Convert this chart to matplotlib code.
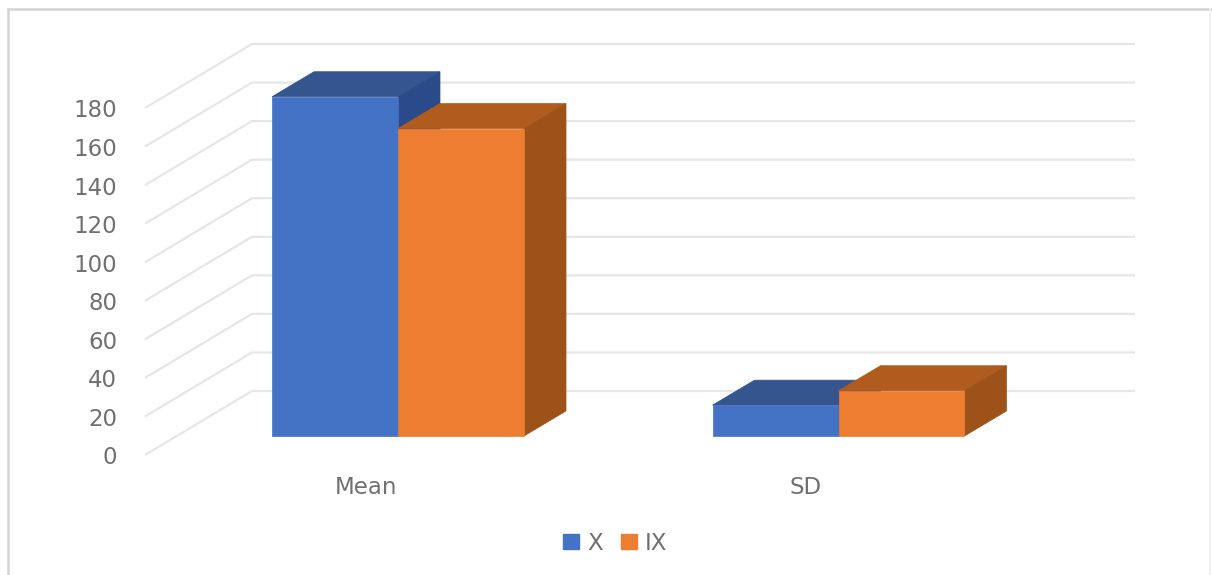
import matplotlib
matplotlib.use('Agg')
import matplotlib.pyplot as plt
from matplotlib.lines import Line2D
from matplotlib.patches import Polygon, Patch

plt.rcParams['font.family'] = ['DejaVu Sans']

categories = ['Mean', 'SD']
series_names = ['X', 'IX']
x_values = [176, 16]
ix_values = [159.5, 23.5]
yticks = [0, 20, 40, 60, 80, 100, 120, 140, 160, 180]

W, H = 1212, 575
xunit = 440.5      # px per category
yunit = 347 / 180. # px per value
x0px, y0px = 398, 436  # category 0, value 0 on the front of the bars

barw = 126 / xunit
# oblique offset of the bar depth and of the whole wall
bar_dx, bar_dy = 42 / xunit, 25 / yunit
front_dy = -19 / yunit
wall_dx, wall_dy = 107 / xunit, 64 / yunit
wall_left = (145 - x0px) / xunit
wall_right = (1135 - x0px) / xunit

textcol = '#707070'
fs = 16.5

fig = plt.figure(figsize=(W / 100., H / 100.), dpi=100)
ax = fig.add_axes([0, 0, 1, 1])
ax.set_xlim(-x0px / xunit, (W - x0px) / xunit)
ax.set_ylim(-(H - y0px) / yunit, y0px / yunit)
ax.axis('off')

# outer chart frame, only top and left show clearly
top = 1 - 9 / H
fig.add_artist(Line2D([8 / W, 8 / W], [0, top], color='#d4d4d4', lw=1.8))
fig.add_artist(Line2D([8 / W, 1], [top, top], color='#d4d4d4', lw=1.8))
fig.add_artist(Line2D([1210 / W, 1210 / W], [0, top], color='#f0f0f0', lw=1.2))

gridcol = '#e6e6e6'
for v in yticks:
    xs = [wall_left, wall_left + wall_dx, wall_right]
    y0 = v + front_dy
    ys = [y0, y0 + wall_dy, y0 + wall_dy]
    ax.plot(xs, ys, color=gridcol, lw=1.6, zorder=1, solid_capstyle='butt')
    ax.text(wall_left - 28 / xunit, y0 - 3 / yunit, str(v), ha='right', va='center',
            fontsize=fs, color=textcol)


def bar3d(x, w, h, front, top, side, z):
    ax.add_patch(Polygon([(x, 0), (x + w, 0), (x + w, h), (x, h)], fc=front, ec=front, lw=0.5, zorder=z + 0.2))
    ax.add_patch(Polygon([(x, h), (x + w, h), (x + w + bar_dx, h + bar_dy), (x + bar_dx, h + bar_dy)],
                         fc=top, ec=top, lw=0.5, zorder=z))
    ax.add_patch(Polygon([(x + w, 0), (x + w + bar_dx, bar_dy), (x + w + bar_dx, h + bar_dy), (x + w, h)],
                         fc=side, ec=side, lw=0.5, zorder=z + 0.1))


for i in range(len(categories)):
    bar3d(i - barw, barw, x_values[i], '#4472c4', '#35558f', '#2b4a8a', 3 + i * 2)
    bar3d(i, barw, ix_values[i], '#ed7d31', '#b05c1f', '#9c5218', 4 + i * 2)

ax.text(-32 / xunit, -51 / yunit, categories[0], ha='center', va='center', fontsize=fs, color=textcol)
ax.text((806 - x0px) / xunit, -51 / yunit, categories[1], ha='center', va='center', fontsize=fs, color=textcol)

handles = [Patch(color='#4472c4', label=series_names[0]), Patch(color='#ed7d31', label=series_names[1])]
leg = ax.legend(handles=handles, ncol=2, frameon=False, loc='center', bbox_to_anchor=(615 / W, 1 - 543 / H),
                fontsize=fs, labelcolor=textcol, handlelength=0.7, handleheight=0.58,
                handletextpad=0.35, columnspacing=0.8)

fig.savefig('out.png', dpi=100)
